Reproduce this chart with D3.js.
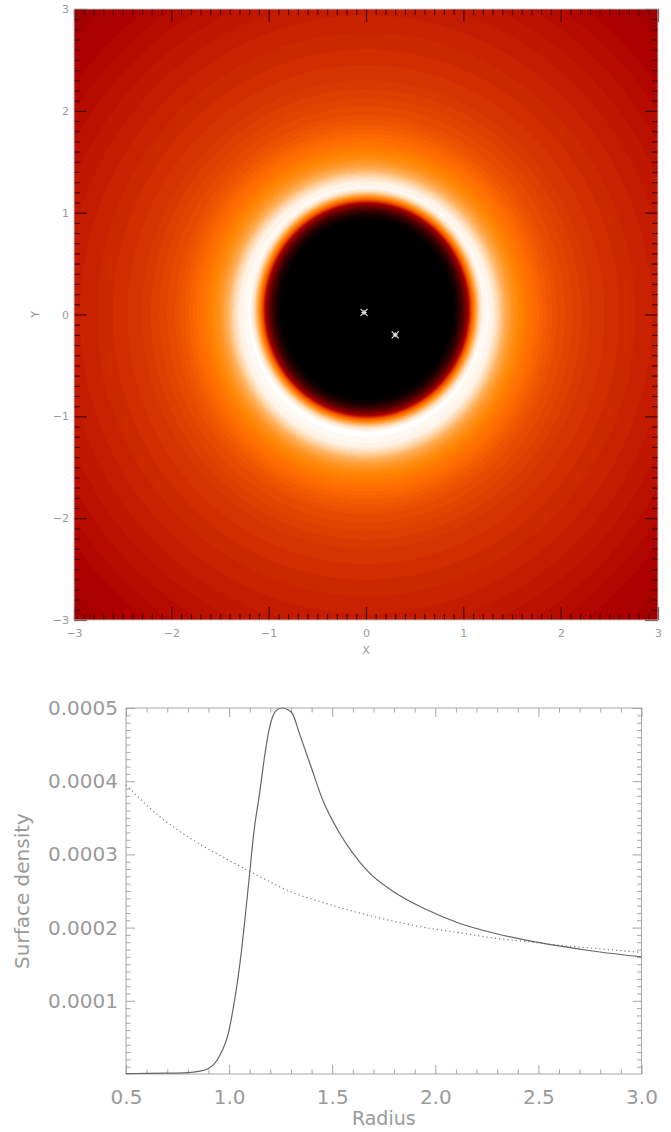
<!DOCTYPE html>
<html>
<head>
<meta charset="utf-8">
<script src="https://cdn.jsdelivr.net/npm/d3@7"></script>
<style>
  html, body { margin: 0; padding: 0; background: #fff; }
  svg { display: block; }
  text { font-family: "DejaVu Sans", "Liberation Sans", sans-serif; fill: #9a9a9a; }
</style>
</head>
<body>
<script>
// Disc surface density: 2-D map (top) and radial profile (bottom)

// --- map: brightness level of the ring, by distance from the origin
const ringRadius = [0, 1.20, 1.30, 1.36, 1.42, 1.50, 1.65, 1.80, 1.96, 2.15, 2.30, 2.55, 2.82, 3.00, 3.50, 4.00, 4.30];
const ringLevel  = [255, 255, 250, 235, 215, 200, 184, 172, 162, 155, 150, 145, 140, 137, 128, 118, 110];
// --- map: inner cavity edge, by distance from the cavity centre
const cavityCentre = [0.01, 0.05];
const cavityRadius = [0, 0.87, 0.93, 0.98, 1.03, 1.07, 1.11, 1.16, 1.20];
const cavityLevel  = [0, 0, 18, 50, 100, 160, 200, 240, 255];
// --- colour table (red temperature)
const tableIndex  = [0, 120, 176, 190, 255];
const tableColour = ["#000000", "#ae0000", "#ff6a00", "#ff8400", "#ffffff"];
// --- binary star positions
const starX = [-0.02, 0.30];
const starY = [0.02, -0.20];
const mapTicks = [-3, -2, -1, 0, 1, 2, 3];

// --- profile: current surface density
const radius  = [0.50, 0.60, 0.70, 0.80, 0.85, 0.90, 0.95, 1.00, 1.02, 1.04, 1.06, 1.08, 1.10, 1.12, 1.146,
                 1.178, 1.195, 1.211, 1.235, 1.259, 1.283, 1.308, 1.340, 1.397, 1.453, 1.534, 1.599, 1.679,
                 1.792, 1.954, 2.116, 2.277, 2.439, 2.600, 2.762, 3.00];
const density = [0.6e-6, 0.8e-6, 1.2e-6, 2.0e-6, 3.5e-6, 7.5e-6, 2.3e-5, 6.0e-5, 9.0e-5, 1.25e-4, 1.68e-4, 2.20e-4,
                 2.75e-4, 3.30e-4, 3.80e-4, 4.45e-4, 4.72e-4, 4.88e-4, 4.98e-4, 5.00e-4, 4.98e-4, 4.92e-4, 4.66e-4,
                 4.20e-4, 3.75e-4, 3.30e-4, 3.02e-4, 2.75e-4, 2.50e-4, 2.25e-4, 2.06e-4, 1.93e-4, 1.83e-4,
                 1.75e-4, 1.68e-4, 1.60e-4];
// --- profile: initial surface density (dotted)
const initRadius  = [0.50, 0.662, 0.823, 0.985, 1.146, 1.308, 1.47, 1.631, 1.793, 1.954, 2.116, 2.277, 2.439, 2.60, 2.80, 3.00];
const initDensity = [3.95e-4, 3.52e-4, 3.20e-4, 2.94e-4, 2.70e-4, 2.48e-4, 2.33e-4, 2.20e-4, 2.09e-4, 2.00e-4,
                     1.93e-4, 1.86e-4, 1.81e-4, 1.76e-4, 1.71e-4, 1.66e-4];
const radiusTicks  = [0.5, 1.0, 1.5, 2.0, 2.5, 3.0];
const densityTicks = [0.0001, 0.0002, 0.0003, 0.0004, 0.0005];

const W = 671, H = 1132;
const svg = d3.select("body").append("svg").attr("width", W).attr("height", H);

// ================= map =================
const mx = d3.scaleLinear().domain([-3, 3]).range([74, 658]);
const my = d3.scaleLinear().domain([-3, 3]).range([620, 9]);

const ringScale   = d3.scaleLinear().domain(ringRadius).range(ringLevel).clamp(true);
const cavityScale = d3.scaleLinear().domain(cavityRadius).range(cavityLevel).clamp(true);
const colourTable = d3.scaleLinear().domain(tableIndex).range(tableColour).interpolate(d3.interpolateRgb).clamp(true);

const mw = Math.round(mx.range()[1] - mx.range()[0]);
const mh = Math.round(my.range()[0] - my.range()[1]);
const canvas = document.createElement("canvas");
canvas.width = mw; canvas.height = mh;
const ctx = canvas.getContext("2d");
const img = ctx.createImageData(mw, mh);
// cache colours by quantised level
const lut = [];
for (let i = 0; i <= 255; i++) lut.push(d3.rgb(colourTable(i)));
for (let py = 0; py < mh; py++) {
  const y = my.invert(my.range()[1] + py + 0.5);
  for (let px = 0; px < mw; px++) {
    const x = mx.invert(mx.range()[0] + px + 0.5);
    const r0 = Math.hypot(x, y);
    const r1 = Math.hypot(x - cavityCentre[0], y - cavityCentre[1]);
    let level = Math.min(ringScale(r0), cavityScale(r1));
    level = Math.max(0, Math.min(255, Math.floor(level / 3) * 3));
    const c = lut[level];
    const k = (py * mw + px) * 4;
    img.data[k] = c.r; img.data[k + 1] = c.g; img.data[k + 2] = c.b; img.data[k + 3] = 255;
  }
}
ctx.putImageData(img, 0, 0);

const map = svg.append("g");
map.append("image")
  .attr("x", mx.range()[0]).attr("y", my.range()[1])
  .attr("width", mw).attr("height", mh)
  .attr("preserveAspectRatio", "none")
  .attr("href", canvas.toDataURL());

// stars
starX.forEach((sx, i) => {
  const g = map.append("g").attr("transform", `translate(${mx(sx)},${my(starY[i])})`)
    .attr("stroke", "#e6e6e6").attr("stroke-width", 1.1);
  g.append("line").attr("x1", -3.5).attr("y1", -3.5).attr("x2", 3.5).attr("y2", 3.5);
  g.append("line").attr("x1", -3.5).attr("y1", 3.5).attr("x2", 3.5).attr("y2", -3.5);
  g.append("line").attr("x1", 0).attr("y1", -2.5).attr("x2", 0).attr("y2", 2.5);
  g.append("line").attr("x1", -2.5).attr("y1", 0).attr("x2", 2.5).attr("y2", 0);
});

function styleAxis(g, tickColour, width) {
  g.select(".domain").remove();
  g.selectAll(".tick line").attr("stroke", tickColour).attr("stroke-width", width);
}

const mapMinor = d3.range(-30, 31).filter(v => v % 10 !== 0).map(v => v / 10);
const mapTickColour = "#4a0000";
const fmtInt = d3.format("d");

// map axes on all four sides, ticks pointing inward
[[d3.axisBottom(mx), `translate(0,${my(-3)})`, true],
 [d3.axisTop(mx), `translate(0,${my(3)})`, false]].forEach(([ax, tr, lab]) => {
  const gM = map.append("g").attr("transform", tr)
    .call(ax.tickValues(mapTicks).tickSize(-13).tickPadding(9).tickFormat(lab ? fmtInt : ""));
  styleAxis(gM, mapTickColour, 1.2);
  gM.selectAll("text").attr("font-size", 11).attr("fill", "#9a9a9a").attr("font-family", null);
  const gm = map.append("g").attr("transform", tr)
    .call(ax.tickValues(mapMinor).tickSize(-6).tickFormat(""));
  styleAxis(gm, mapTickColour, 1.2);
});
[[d3.axisLeft(my), `translate(${mx(-3)},0)`, true],
 [d3.axisRight(my), `translate(${mx(3)},0)`, false]].forEach(([ax, tr, lab]) => {
  const gM = map.append("g").attr("transform", tr)
    .call(ax.tickValues(mapTicks).tickSize(-13).tickPadding(5).tickFormat(lab ? fmtInt : ""));
  styleAxis(gM, mapTickColour, 1.2);
  gM.selectAll("text").attr("font-size", 11).attr("fill", "#9a9a9a").attr("font-family", null);
  const gm = map.append("g").attr("transform", tr)
    .call(ax.tickValues(mapMinor).tickSize(-6).tickFormat(""));
  styleAxis(gm, mapTickColour, 1.2);
});
map.append("rect")
  .attr("x", mx(-3)).attr("y", my(3))
  .attr("width", mx(3) - mx(-3)).attr("height", my(-3) - my(3))
  .attr("fill", "none").attr("stroke", "#c4c4c4").attr("stroke-width", 1);
map.append("text").attr("x", mx(0)).attr("y", 654).attr("text-anchor", "middle")
  .attr("font-size", 11).text("X");
map.append("text").attr("transform", `translate(39,${my(0)}) rotate(-90)`)
  .attr("text-anchor", "middle").attr("font-size", 11).text("Y");

// ================= profile =================
const px = d3.scaleLinear().domain([0.5, 3.0]).range([126, 641.5]);
const py = d3.scaleLinear().domain([0, 0.0005]).range([1074, 708]);
const prof = svg.append("g");
const frameColour = "#a6a6a6";

const rMinor = d3.range(5, 31).filter(v => v % 5 !== 0).map(v => v / 10);
const dMinor = d3.range(1, 50).filter(v => v % 10 !== 0).map(v => v / 100000);
const fmtR = d3.format(".1f");
const fmtD = d3.format(".4f");

[[d3.axisBottom(px), `translate(0,${py(0)})`, true],
 [d3.axisTop(px), `translate(0,${py(0.0005)})`, false]].forEach(([ax, tr, lab]) => {
  const gM = prof.append("g").attr("transform", tr)
    .call(ax.tickValues(radiusTicks).tickSize(-9).tickPadding(16).tickFormat(lab ? fmtR : ""));
  styleAxis(gM, frameColour, 1);
  gM.selectAll("text").attr("font-size", 20).attr("fill", "#9a9a9a").attr("font-family", null);
  const gm = prof.append("g").attr("transform", tr)
    .call(ax.tickValues(rMinor).tickSize(-4.5).tickFormat(""));
  styleAxis(gm, frameColour, 1);
});
[[d3.axisLeft(py), `translate(${px(0.5)},0)`, true],
 [d3.axisRight(py), `translate(${px(3.0)},0)`, false]].forEach(([ax, tr, lab]) => {
  const gM = prof.append("g").attr("transform", tr)
    .call(ax.tickValues(densityTicks).tickSize(-9).tickPadding(8).tickFormat(lab ? fmtD : ""));
  styleAxis(gM, frameColour, 1);
  gM.selectAll("text").attr("font-size", 20).attr("fill", "#9a9a9a").attr("font-family", null);
  const gm = prof.append("g").attr("transform", tr)
    .call(ax.tickValues(dMinor).tickSize(-4.5).tickFormat(""));
  styleAxis(gm, frameColour, 1);
});
prof.append("rect")
  .attr("x", px(0.5)).attr("y", py(0.0005))
  .attr("width", px(3) - px(0.5)).attr("height", py(0) - py(0.0005))
  .attr("fill", "none").attr("stroke", frameColour).attr("stroke-width", 1);

const line = d3.line().curve(d3.curveMonotoneX).x(d => px(d[0])).y(d => py(d[1]));
prof.append("path")
  .datum(initRadius.map((r, i) => [r, initDensity[i]]))
  .attr("d", line).attr("fill", "none")
  .attr("stroke", "#7a7a7a").attr("stroke-width", 1.2).attr("stroke-dasharray", "1.2 3");
prof.append("path")
  .datum(radius.map((r, i) => [r, density[i]]))
  .attr("d", line).attr("fill", "none")
  .attr("stroke", "#666").attr("stroke-width", 1.2);

prof.append("text").attr("x", px(1.75)).attr("y", 1125).attr("text-anchor", "middle")
  .attr("font-size", 19).text("Radius");
prof.append("text").attr("transform", `translate(29,${py(0.00025)}) rotate(-90)`)
  .attr("text-anchor", "middle").attr("font-size", 20).text("Surface density");
</script>
</body>
</html>
